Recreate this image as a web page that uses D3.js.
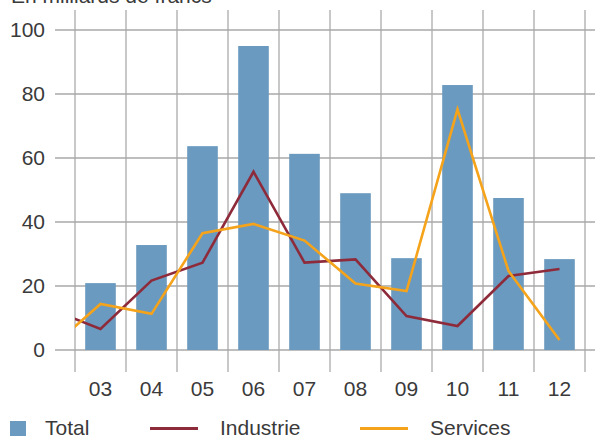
<!DOCTYPE html>
<html>
<head>
<meta charset="utf-8">
<script src="https://cdn.jsdelivr.net/npm/d3@7"></script>
<style>
  html, body { margin: 0; padding: 0; background: #fff; }
  svg { display: block; }
  text { font-family: "Liberation Sans", Arial, sans-serif; fill: #3a3a3a; }
</style>
</head>
<body>
<svg id="chart" width="595" height="436"></svg>
<script>
// Investment volumes, in billions of francs
const years = ["03", "04", "05", "06", "07", "08", "09", "10", "11", "12"];
const total = [20.9, 32.8, 63.7, 95.0, 61.3, 49.0, 28.7, 82.8, 47.5, 28.4];

// Line series start one year earlier; the segment is clipped at the plot edge
const lineYears = ["02", "03", "04", "05", "06", "07", "08", "09", "10", "11", "12"];
const industrie = [12.8, 6.6, 21.7, 27.3, 55.7, 27.3, 28.3, 10.6, 7.5, 23.1, 25.3];
const services = [0.3, 14.4, 11.3, 36.5, 39.4, 34.2, 20.8, 18.4, 75.2, 24.7, 3.1];

const yTicks = [0, 20, 40, 60, 80, 100];
const title = "En milliards de francs";
const legendItems = [
  { label: "Total", type: "rect", color: "#6a9abf" },
  { label: "Industrie", type: "line", color: "#8e2b3b" },
  { label: "Services", type: "line", color: "#f5a31b" }
];

const svg = d3.select("#chart");
const plotLeft = 75, plotRight = 585, plotTop = 30, plotBottom = 350;

const x = d3.scaleBand().domain(years).range([plotLeft, plotRight]).padding(0);
const step = x.step();
const xLine = d3.scalePoint().domain(lineYears)
  .range([plotLeft - step / 2, plotRight - step / 2]);
const y = d3.scaleLinear().domain([0, 100]).range([plotBottom, plotTop]);

// Title (runs off the top edge of the frame)
svg.append("text").attr("x", 11).attr("y", 3)
  .attr("font-size", 21).text(title);

// Vertical grid lines at band boundaries
const vLines = years.map(d => x(d)).concat([plotRight]);
svg.append("g").selectAll("line").data(vLines).join("line")
  .attr("x1", d => d).attr("x2", d => d)
  .attr("y1", 10).attr("y2", 372)
  .attr("stroke", "#c8c8c8").attr("stroke-width", 2);

// Horizontal grid lines
svg.append("g").selectAll("line").data(yTicks).join("line")
  .attr("x1", 55).attr("x2", 595)
  .attr("y1", d => y(d)).attr("y2", d => y(d))
  .attr("stroke", "#a9a9a9").attr("stroke-width", 1.4);

// Y tick labels
svg.append("g").selectAll("text").data(yTicks).join("text")
  .attr("x", 45).attr("y", d => y(d)).attr("dy", "0.32em")
  .attr("text-anchor", "end").attr("font-size", 21)
  .text(d => d);

// X tick labels
svg.append("g").selectAll("text").data(years).join("text")
  .attr("x", d => x(d) + step / 2).attr("y", 396)
  .attr("text-anchor", "middle").attr("font-size", 21)
  .text(d => d);

// Bars
svg.append("g").selectAll("rect").data(years).join("rect")
  .attr("x", d => x(d) + step * 0.2)
  .attr("width", step * 0.6)
  .attr("y", (d, i) => y(total[i]))
  .attr("height", (d, i) => y(0) - y(total[i]))
  .attr("fill", "#6a9abf");

// Lines, clipped to the plot area
svg.append("clipPath").attr("id", "plot-clip")
  .append("rect").attr("x", plotLeft).attr("y", 0)
  .attr("width", plotRight - plotLeft).attr("height", 436);

const line = d3.line()
  .x((d, i) => xLine(lineYears[i]))
  .y(d => y(d));

const lines = svg.append("g").attr("clip-path", "url(#plot-clip)");
lines.append("path").datum(industrie)
  .attr("d", line).attr("fill", "none")
  .attr("stroke", "#8e2b3b").attr("stroke-width", 2.6)
  .attr("stroke-linejoin", "miter");
lines.append("path").datum(services)
  .attr("d", line).attr("fill", "none")
  .attr("stroke", "#f5a31b").attr("stroke-width", 2.6)
  .attr("stroke-linejoin", "miter");

// Legend
const legendX = [10, 150, 360];
const lg = svg.append("g");
legendItems.forEach((item, i) => {
  const g = lg.append("g").attr("transform", `translate(${legendX[i]},0)`);
  if (item.type === "rect") {
    g.append("rect").attr("x", 0).attr("y", 421).attr("width", 16).attr("height", 16)
      .attr("fill", item.color);
    g.append("text").attr("x", 35).attr("y", 435).attr("font-size", 21).text(item.label);
  } else {
    g.append("line").attr("x1", 0).attr("x2", 48).attr("y1", 428.5).attr("y2", 428.5)
      .attr("stroke", item.color).attr("stroke-width", 3);
    g.append("text").attr("x", 70).attr("y", 435).attr("font-size", 21).text(item.label);
  }
});
</script>
</body>
</html>
